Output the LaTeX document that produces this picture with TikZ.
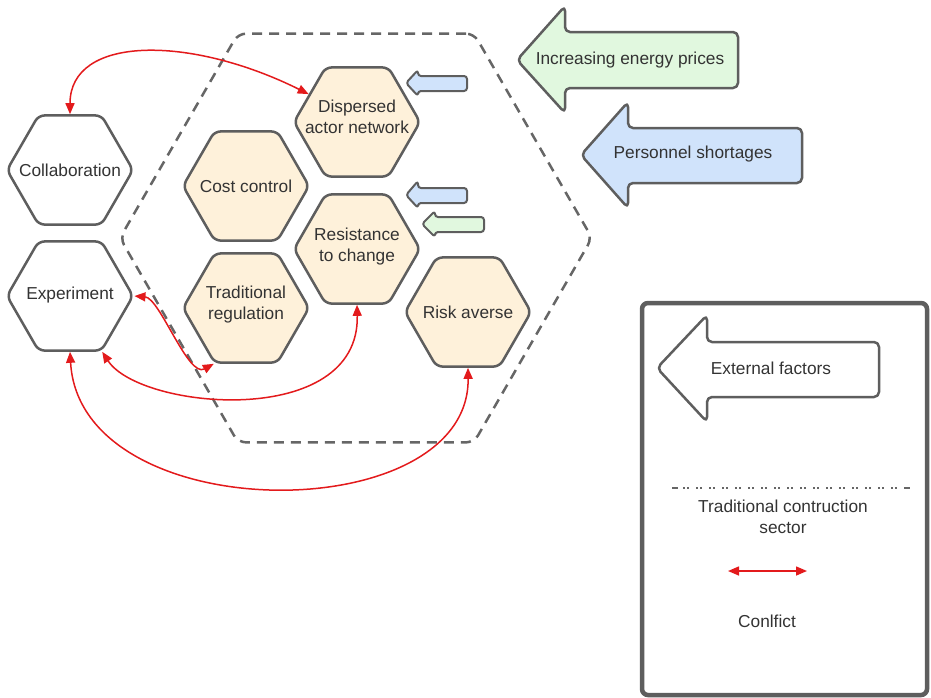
\documentclass[tikz,border=0pt]{standalone}
\usepackage{fontspec}
\setmainfont{Liberation Sans}
\usetikzlibrary{shapes.geometric,arrows.meta}
\definecolor{hexfill}{HTML}{FEF1DA}
\definecolor{edge}{HTML}{5E5E5E}
\definecolor{dashc}{HTML}{666666}
\definecolor{txt}{HTML}{333333}
\definecolor{cred}{HTML}{E31A1C}
\definecolor{gfill}{HTML}{E1F8DF}
\definecolor{bfill}{HTML}{D0E3FB}
\begin{document}
\begin{tikzpicture}[x=1pt,y=1pt,
  hexa/.style={regular polygon, regular polygon sides=6, minimum size=126pt, inner sep=0pt, draw=edge, line width=2.5pt, rounded corners=6pt, fill=white},
  chex/.style={hexa, fill=hexfill},
  lab/.style={font=\fontsize{17.3}{21}\selectfont, text=txt, align=center, inner sep=0pt},
  conflict/.style={draw=cred, line width=1.5pt, {Triangle[length=11pt,width=9pt]}-{Triangle[length=11pt,width=9pt]}},
  blockarrow/.style={draw=edge, line width=2.5pt, rounded corners=5pt, line join=round},
  smallarrow/.style={draw=edge, line width=2pt, rounded corners=3pt, line join=round}
]
\useasboundingbox (0,0) rectangle (931,-697);

% traditional construction sector
\node[regular polygon, regular polygon sides=6, minimum size=472pt, inner sep=0pt, draw=dashc, line width=2.5pt, rounded corners=8pt, dash pattern=on 10pt off 7pt] (sector) at (356,-238) {};

% hexagons
\node[hexa] (collab) at (70,-170) {};
\node[lab] (collabT) at (70,-170) {Collaboration};
\node[hexa] (exp) at (70,-296) {};
\node[lab] (expT) at (70,-295) {Experiment};
\node[chex] (cost) at (246,-186) {};
\node[lab] (costT) at (246,-186) {Cost control};
\node[chex] (disp) at (357,-122) {};
\node[lab] (dispT) at (357,-117) {Dispersed\\actor network};
\node[chex] (res) at (357,-249) {};
\node[lab] (resT) at (357,-247) {Resistance\\to change};
\node[chex] (trad) at (246,-308) {};
\node[lab] (tradT) at (246,-305) {Traditional\\regulation};
\node[chex] (risk) at (468,-312) {};
\node[lab] (riskT) at (468,-312) {Risk averse};

% external factor arrows
\draw[blockarrow, fill=gfill] (738,-32) -- (565,-32) -- (565,-6) -- (517,-60) -- (565,-113) -- (565,-88) -- (738,-88) -- cycle;
\node[lab] (energyT) at (630,-60) {Increasing energy prices};
\draw[blockarrow, fill=bfill] (802,-128) -- (628,-128) -- (628,-102) -- (581,-155) -- (628,-208) -- (628,-183) -- (802,-183) -- cycle;
\node[lab] (personT) at (693,-154) {Personnel shortages};

\draw[smallarrow, fill=bfill] (467,-76) -- (418,-76) -- (418,-70) -- (406,-83) -- (418,-96) -- (418,-91) -- (467,-91) -- cycle;
\draw[smallarrow, fill=bfill] (467,-188) -- (418,-188) -- (418,-181) -- (406,-195) -- (418,-208) -- (418,-203) -- (467,-203) -- cycle;
\draw[smallarrow, fill=gfill] (484,-217) -- (435,-217) -- (435,-211) -- (422,-224) -- (435,-237) -- (435,-232) -- (484,-232) -- cycle;

% conflicts
\draw[conflict] (collab.90) .. controls (70,-35) and (190,-35) .. (disp.150);
\draw[conflict] (exp.0) .. controls (160,-298) and (188,-378) .. (trad.240);
\draw[conflict] (exp.300) .. controls (140,-410) and (360,-430) .. (res.270);
\draw[conflict] (exp.270) .. controls (80,-530) and (470,-530) .. (risk.270);

% legend
\draw[draw=edge, line width=4.5pt, rounded corners=6pt] (642,-303) rectangle (927,-695);
\draw[blockarrow, fill=white] (879,-342) -- (707,-342) -- (707,-315) -- (657,-368) -- (707,-422) -- (707,-397) -- (879,-397) -- cycle;
\node[lab] (extT) at (771,-368) {External factors};
\coordinate (la) at (672,-488);
\coordinate (la2) at (678,-488);
\coordinate (lb2) at (904,-488);
\coordinate (lb) at (910,-488);
\draw[draw=dashc, line width=2pt] (la) -- (la2);
\draw[draw=dashc, line width=2pt] (lb2) -- (lb);
\draw[draw=dashc, line width=2pt, dash pattern=on 0pt off 5pt on 1.5pt off 2.5pt on 1.5pt off 2.5pt] (la2) -- (lb2);
\node[lab] (sectT) at (783,-517) {Traditional contruction\\sector};
\coordinate (ca) at (728,-571);
\coordinate (cb) at (807,-571);
\draw[conflict] (ca) -- (cb);
\node[lab] (confT) at (767,-621) {Conlfict};
\end{tikzpicture}
\end{document}
